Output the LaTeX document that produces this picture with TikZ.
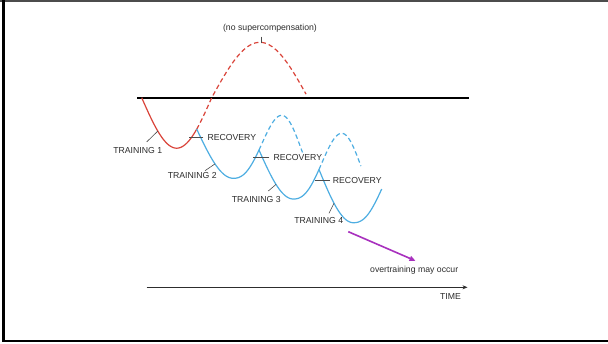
\documentclass[tikz,border=0pt]{standalone}
\usepackage{fontspec}
\setmainfont{Liberation Sans}
\usetikzlibrary{arrows.meta}
\definecolor{loadred}{RGB}{218,68,58}
\definecolor{loadblue}{RGB}{78,174,226}
\definecolor{warnpurple}{RGB}{168,48,190}
\definecolor{inkgray}{RGB}{45,45,45}
\begin{document}
\begin{tikzpicture}[x=1pt,y=-1pt,
  redwave/.style={draw=loadred,line width=1.2pt},
  bluewave/.style={draw=loadblue,line width=1.2pt},
  dashpat/.style={dash pattern=on 4.5pt off 3pt},
  caps/.style={font=\fontsize{8.7}{9}\selectfont,text=inkgray,inner sep=0pt,text height=6.3pt,text depth=0pt},
  lower/.style={font=\fontsize{8.7}{9}\selectfont,text=inkgray,inner sep=0pt,anchor=base},
  leader/.style={draw=inkgray!85,line width=0.6pt},
  samples=40,variable=\t]
\useasboundingbox (0,0) rectangle (608,343);
\fill[white] (0,0) rectangle (608,343);
% frame
\fill[gray!60!black] (0,0) rectangle (608,2);
\fill[black] (2,0) rectangle (5,342.3);
\fill[black] (2,340.3) rectangle (608,342.3);

% reference level
\draw[line width=1.8pt,black] (137,97.7) coordinate (lvlA) -- (468.5,97.7) coordinate (lvlB);

% first training load (red)
\draw[redwave] plot[domain=0:0.786] ({141.7+70*\t},{97.7+50.5*sin(180*\t)});
\draw[redwave,dashpat] plot[domain=0.786:1] ({141.7+70*\t},{97.7+50.5*sin(180*\t)})
  -- plot[domain=0:0.98] ({211.7+96.3*\t},{97.7-55.4*sin(180*\t)});

% second load
\draw[bluewave] plot[domain=0:1] ({196.7+36.6*\t},{129.1+49.2*sin(90*\t)})
  -- plot[domain=0.0001:0.531] ({233.3+48.4*\t},{178.3-63*(1-cos(180*\t^1.2))/2});
\draw[bluewave,dashpat] plot[domain=0.531:1] ({233.3+48.4*\t},{178.3-63*(1-cos(180*\t^1.2))/2})
  -- plot[domain=0:0.52] ({281.7+40*\t},{115.3+70*(1-cos(180*\t))/2});

% third load
\draw[bluewave] plot[domain=0:1] ({259+34.3*\t},{150+49*sin(90*\t)})
  -- plot[domain=0.0001:0.531] ({293.3+48.4*\t},{199-65.7*(1-cos(180*\t^1.2))/2});
\draw[bluewave,dashpat] plot[domain=0.531:1] ({293.3+48.4*\t},{199-65.7*(1-cos(180*\t^1.2))/2})
  -- plot[domain=0:0.48] ({341.7+40*\t},{133.3+70*(1-cos(180*\t))/2});

% fourth load
\draw[bluewave] plot[domain=0:1] ({319+34.3*\t},{169.5+53.2*sin(90*\t)})
  -- plot[domain=0.0001:0.587] ({353.3+48.4*\t},{222.7-62*(1-cos(180*\t^1.2))/2});

% points on the curves that the labels point to
\coordinate (peakR) at (261,42.5);
\coordinate (onT1) at (157.8,131.1);
\coordinate (onT2) at (215,163.9);
\coordinate (onT3) at (276,184.4);
\coordinate (onT4) at (334,203.2);

% labels
\node[lower] (nosc) at (270,30.3) {(no supercompensation)};
\node[caps] (t1) at (137.7,150.7) {TRAINING 1};
\node[caps] (t2) at (192.2,175.7) {TRAINING 2};
\node[caps] (t3) at (256.3,199) {TRAINING 3};
\node[caps] (t4) at (318.7,220.7) {TRAINING 4};
\node[caps,anchor=west] (rec1) at (207.3,137.5) {RECOVERY};
\node[caps,anchor=west] (rec2) at (273.3,157.5) {RECOVERY};
\node[caps,anchor=west] (rec3) at (332.7,180.7) {RECOVERY};
\node[lower] (over) at (414.2,272.5) {overtraining may occur};
\node[caps,anchor=east] (time) at (461,296.7) {TIME};

% leader lines
\coordinate (ls0) at (261,36.5);
\coordinate (ls1) at (146.7,141.9);
\coordinate (ls2) at (205,170.7);
\coordinate (ls3) at (268.3,191);
\coordinate (ls4) at (329,213.3);
\draw[leader] (ls0) -- (peakR);
\draw[leader] (ls1) -- (onT1);
\draw[leader] (ls2) -- (onT2);
\draw[leader] (ls3) -- (onT3);
\draw[leader] (ls4) -- (onT4);
\draw[leader] (rec1.west) ++(-4,0) coordinate (rl1) -- ++(-14,0) coordinate (rr1);
\draw[leader] (rec2.west) ++(-4,0) coordinate (rl2) -- ++(-16,0) coordinate (rr2);
\draw[leader] (rec3.west) ++(-2.7,0) coordinate (rl3) -- ++(-15,0) coordinate (rr3);

% overtraining arrow
\coordinate (ovA) at (348.3,231.7);
\coordinate (ovB) at (415.5,260.8);
\draw[draw=warnpurple,line width=1.6pt,-{Triangle[length=6pt,width=5pt]}] (ovA) -- (ovB);

% time axis
\coordinate (axA) at (146.7,287.3);
\coordinate (axB) at (467.5,287.3);
\draw[line width=0.7pt,inkgray,-{Stealth[length=5pt,width=4pt]}] (axA) -- (axB);
\end{tikzpicture}
\end{document}
